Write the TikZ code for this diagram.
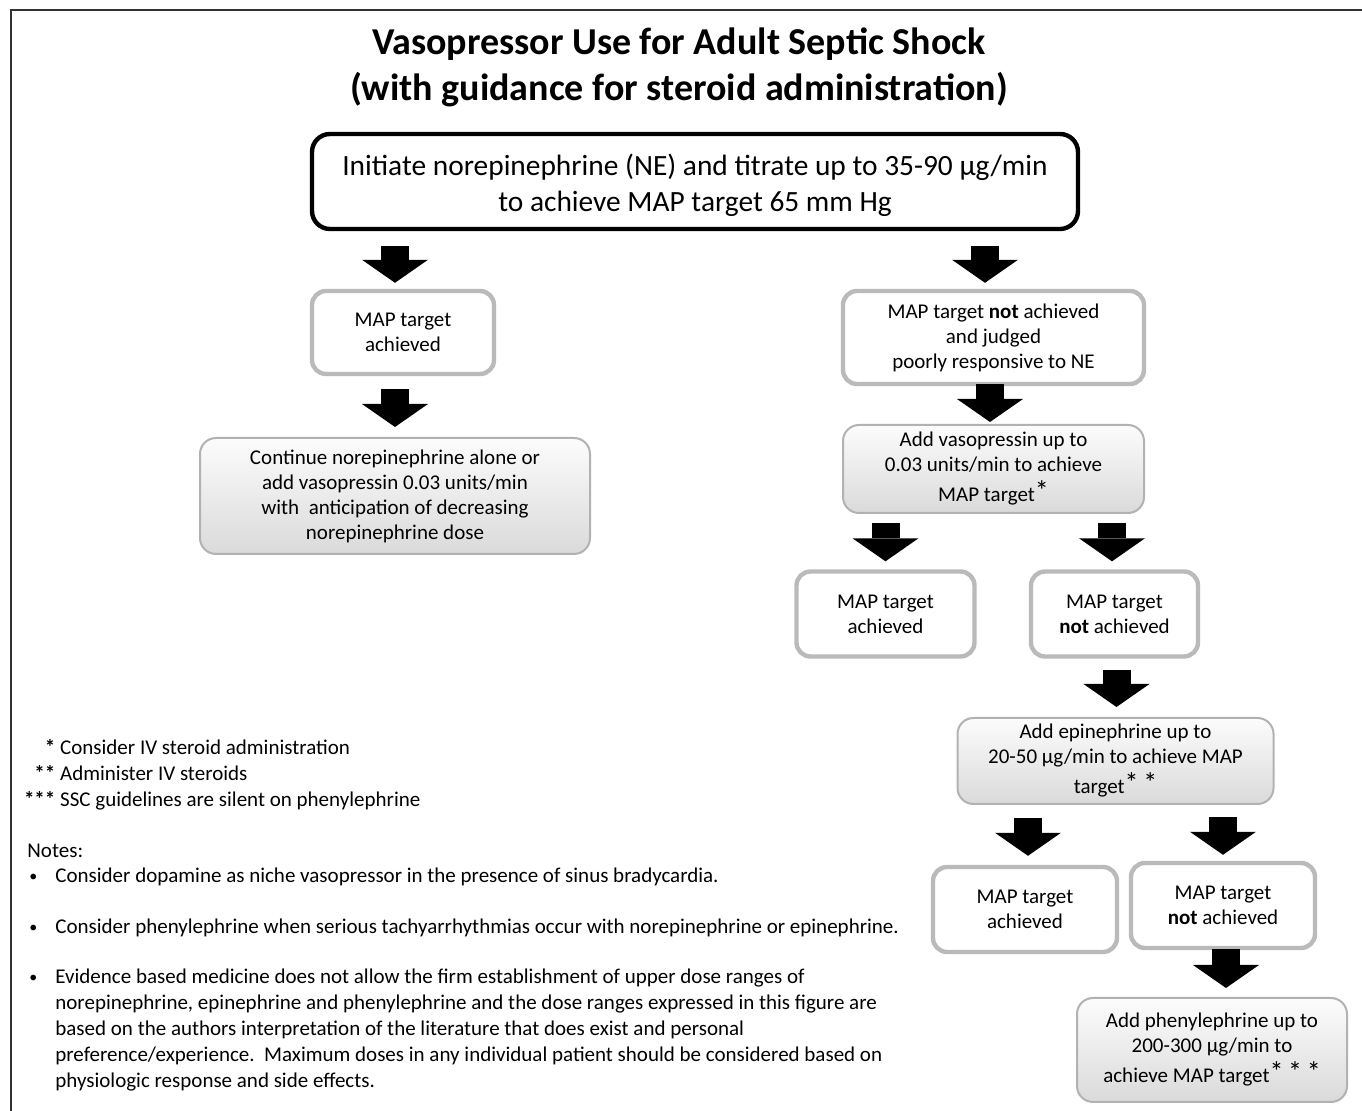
\documentclass[tikz,border=0pt]{standalone}
\usepackage{fontspec}
\setmainfont{Carlito}
\usetikzlibrary{arrows.meta,calc}
\definecolor{boxgray}{RGB}{186,186,186}
\definecolor{gradtop}{RGB}{252,252,252}
\definecolor{gradbot}{RGB}{218,218,218}
\definecolor{gradedge}{RGB}{178,178,178}
\definecolor{framecol}{RGB}{50,50,50}
\newcommand{\astsup}[1]{\raisebox{0.6pt}{\fontsize{14}{14}\selectfont #1}}
\newcommand{\smbullet}{\raisebox{0.8pt}{\fontsize{8}{8}\selectfont •}}
\begin{document}
\begin{tikzpicture}[x=0.5pt,y=-0.5pt,
 boxtext/.style={font=\fontsize{10.5}{12.5}\selectfont, align=center, inner sep=0pt},
 graybox/.style={boxtext, draw=boxgray, line width=2.2pt, rounded corners=7pt, fill=white},
 topbox/.style={draw=black, line width=2.2pt, rounded corners=9pt, inner sep=0pt, font=\fontsize{14.7}{17.7}\selectfont},
 gradbox/.style={boxtext, draw=gradedge, line width=1pt, rounded corners=8pt, top color=gradtop, bottom color=gradbot},
 barrow/.style={line width=14pt, black, -{Triangle[length=11.5pt,width=33pt,line width=0pt]}},
 notetext/.style={font=\fontsize{10.5}{12.9}\selectfont, anchor=base west, inner sep=0pt, align=left},
]
\useasboundingbox (0,0) rectangle (1362,1111);
% frame
\coordinate (fTL) at (10.5,10.5);
\coordinate (fTR) at (1370,10.5);
\coordinate (fBL) at (10.5,1120);
\draw[framecol, line width=1pt] (fTR) -- (fTL) -- (fBL);

\node[font=\bfseries\fontsize{19}{23}\selectfont, align=center, inner sep=0pt] (title) at (679,67)
 {Vasopressor Use for Adult Septic Shock\\(with guidance for steroid administration)};

\node[topbox, minimum width=383pt, minimum height=47.5pt] (top) at (695,181.5)
 {\begin{tabular}{@{}c@{}}\rule{0pt}{17.4pt}Initiate norepinephrine (NE) and titrate up to 35-90 µg/min\\to achieve MAP target 65 mm Hg\end{tabular}};

\node[graybox, minimum width=91pt, minimum height=41.5pt] (mapA) at (403,332.5) {MAP target\\achieved};
\node[gradbox, minimum width=195pt, minimum height=58pt] (cont) at (395,496)
 {Continue norepinephrine alone or\\add vasopressin 0.03 units/min\\with\ \ anticipation of decreasing\\norepinephrine dose};

\node[graybox, minimum width=150.5pt, minimum height=46.5pt] (notA) at (993.5,337.5)
 {MAP target \textbf{not} achieved\\and judged\\poorly responsive to NE};
\node[gradbox, minimum width=150.5pt, minimum height=44pt] (vaso) at (993.5,469)
 {Add vasopressin up to\\0.03 units/min to achieve\\[2.5pt]MAP target\astsup{*}};

\node[graybox, minimum width=89pt, minimum height=42.5pt] (mapB) at (885.5,614) {MAP target\\achieved};
\node[graybox, minimum width=83.5pt, minimum height=42.5pt] (notB) at (1114.5,614) {MAP target\\\textbf{not} achieved};

\node[gradbox, minimum width=158pt, minimum height=43pt] (epi) at (1115.5,761)
 {Add epinephrine up to\\20-50 µg/min to achieve MAP\\[2.5pt]target\astsup{*\,*}};

\node[graybox, minimum width=92pt, minimum height=42.5pt] (mapC) at (1025,909.5) {MAP target\\achieved};
\node[graybox, minimum width=92pt, minimum height=42.5pt] (notC) at (1223,905.5) {MAP target\\\textbf{not} achieved};

\node[gradbox, minimum width=135pt, minimum height=52pt] (phen) at (1212,1050)
 {Add phenylephrine up to\\200-300 µg/min to\\[2.5pt]achieve MAP target\astsup{*\,*\,*}};

% arrows
\draw[barrow, shorten <=7.5pt, shorten >=3pt] ([xshift=-4pt]mapA.north |- top.south) -- ([xshift=-4pt]mapA.north);
\draw[barrow, shorten <=7.5pt, shorten >=3pt] ([xshift=-4.25pt]notA.north |- top.south) -- ([xshift=-4.25pt]notA.north);
\draw[barrow, shorten <=6.5pt, shorten >=5pt] (cont.north |- mapA.south) -- (cont.north);
\draw[barrow, shorten <=-1pt, shorten >=1pt] ([xshift=-1.75pt]notA.south) -- ([xshift=-1.75pt]vaso.north);
\draw[barrow, shorten <=4.5pt, shorten >=4pt] (mapB.north |- vaso.south) -- (mapB.north);
\draw[barrow, shorten <=4.5pt, shorten >=4pt] ([xshift=-1.25pt]notB.north |- vaso.south) -- ([xshift=-1.25pt]notB.north);
\draw[barrow, shorten <=5.5pt, shorten >=5pt] ([xshift=0.5pt]epi.north |- notB.south) -- ([xshift=0.5pt]epi.north);
\draw[barrow, shorten <=6.5pt, shorten >=4.5pt] ([xshift=1.5pt]mapC.north |- epi.south) -- ([xshift=1.5pt]mapC.north);
\draw[barrow, shorten <=6pt, shorten >=3pt] (notC.north |- epi.south) -- (notC.north);
\draw[barrow, shorten <=-0.5pt, shorten >=4.5pt] ([xshift=1.5pt]notC.south) -- ([xshift=1.5pt]notC.south |- phen.north);

% footnotes
\node[notetext] (fn1) at (27,755) {\makebox[14pt][r]{\textbf{*}}\ Consider IV steroid administration};
\node[notetext] (fn2) at (27,781) {\makebox[14pt][r]{\textbf{**}}\ Administer IV steroids};
\node[notetext] (fn3) at (27,807) {\makebox[14pt][r]{\textbf{***}}\ SSC guidelines are silent on phenylephrine};
\node[notetext] (notes) at (27,858) {Notes:};
\node[notetext] (b1) at (29,883) {\makebox[13pt][l]{\smbullet}Consider dopamine as niche vasopressor in the presence of sinus bradycardia.};
\node[notetext] (b2) at (29,934) {\makebox[13pt][l]{\smbullet}Consider phenylephrine when serious tachyarrhythmias occur with norepinephrine or epinephrine.};
\node[notetext, anchor=north west] (b3) at (29,969)
 {\makebox[13pt][l]{\smbullet}Evidence based medicine does not allow the firm establishment of upper dose ranges of\\
 \hspace*{13pt}norepinephrine, epinephrine and phenylephrine and the dose ranges expressed in this figure are\\
 \hspace*{13pt}based on the authors interpretation of the literature that does exist and personal\\
 \hspace*{13pt}preference/experience.\ \ Maximum doses in any individual patient should be considered based on\\
 \hspace*{13pt}physiologic response and side effects.};
\end{tikzpicture}
\end{document}
